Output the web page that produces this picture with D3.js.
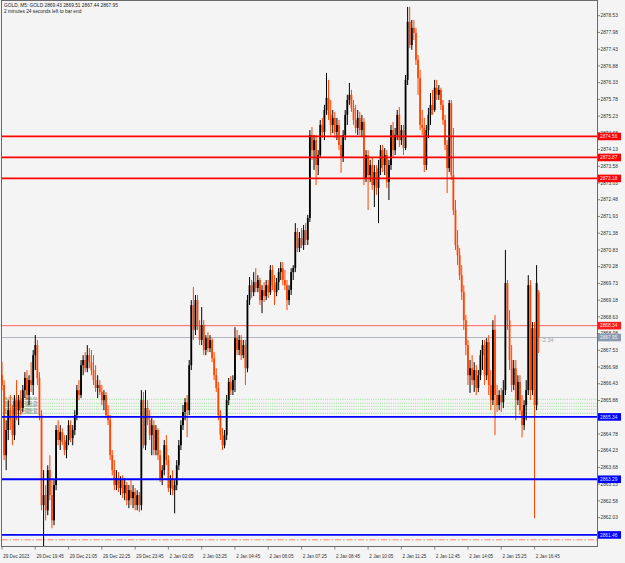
<!DOCTYPE html>
<html><head><meta charset="utf-8">
<script src="https://cdn.jsdelivr.net/npm/d3@7"></script>
<style>html,body{margin:0;padding:0;background:#f4f4f4;}svg{display:block;font-family:"Liberation Sans",Arial,sans-serif;}</style>
</head><body><svg id="c" width="625" height="563"></svg>
<script>
const opens = [2866.71,2866.39,2864.08,2864.91,2865.56,2865.23,2864.74,2865.89,2865.56,2865.89,
2865.63,2866.22,2866.62,2866.06,2866.55,2866.39,2867.37,2867.70,2866.62,2865.40,
2862.44,2862.77,2862.27,2863.59,2862.77,2861.94,2863.10,2864.91,2864.58,2864.84,
2864.51,2864.25,2864.58,2865.07,2864.64,2864.91,2865.40,2866.22,2866.06,2867.04,
2867.21,2866.94,2867.37,2867.14,2866.88,2866.55,2866.29,2866.39,2866.16,2865.89,
2866.06,2865.40,2865.23,2864.08,2863.59,2863.10,2863.33,2863.00,2863.26,2862.83,
2863.10,2862.60,2862.93,2862.67,2862.87,2862.44,2862.77,2862.44,2865.89,2864.41,
2865.63,2865.23,2864.74,2865.07,2864.25,2864.91,2864.08,2863.33,2863.59,2864.41,
2863.92,2863.00,2863.26,2862.93,2863.10,2863.75,2864.41,2865.07,2865.50,2865.82,
2865.56,2867.04,2869.02,2868.20,2869.18,2868.36,2867.87,2868.36,2867.54,2867.93,
2867.60,2867.87,2867.27,2866.71,2866.29,2865.40,2864.74,2864.41,2864.74,2865.89,
2866.49,2866.22,2866.55,2867.93,2867.54,2867.87,2867.37,2867.70,2866.94,2869.18,
2869.67,2869.44,2869.77,2869.58,2869.84,2869.18,2869.51,2869.31,2869.67,2869.44,
2870.17,2869.67,2869.44,2869.77,2870.10,2870.23,2869.84,2869.67,2869.18,2869.51,
2870.10,2870.23,2871.42,2870.89,2871.22,2870.99,2871.48,2871.16,2871.88,2874.61,
2874.11,2874.44,2873.62,2873.95,2874.94,2874.71,2875.43,2875.83,2875.27,2874.94,
2875.17,2874.71,2874.94,2874.28,2873.85,2874.61,2875.27,2875.76,2875.93,2875.50,
2875.10,2874.84,2875.17,2874.77,2875.04,2873.19,2873.95,2873.29,2873.62,2872.96,
2873.39,2872.87,2873.52,2874.11,2873.62,2873.95,2873.06,2873.62,2874.77,2874.11,
2874.61,2875.27,2874.44,2874.77,2874.18,2876.42,2878.33,2877.57,2878.13,2877.96,
2877.08,2876.48,2874.94,2874.84,2873.62,2874.77,2875.27,2875.60,2875.43,2876.16,
2875.93,2876.09,2875.60,2875.10,2874.28,2873.52,2875.66,2873.29,2872.14,2870.99,
2870.66,2870.00,2869.44,2868.52,2867.70,2866.71,2866.94,2866.55,2866.88,2866.29,
2866.71,2867.37,2867.70,2866.71,2867.80,2866.39,2865.89,2868.20,2866.06,2865.73,
2866.06,2865.82,2866.22,2869.74,2868.52,2867.21,2866.39,2866.94,2865.89,2866.49,
2865.56,2865.07,2865.73,2866.22,2869.67,2866.22,2868.26,2865.73,2869.43];
const highs = [2867.14,2866.55,2865.23,2865.89,2866.06,2865.73,2866.06,2866.55,2866.06,2866.22,
2866.39,2866.81,2866.88,2866.71,2867.14,2867.54,2868.03,2867.87,2866.81,2865.56,
2863.59,2863.10,2863.75,2864.08,2863.26,2863.26,2865.07,2865.23,2865.07,2864.97,
2864.74,2864.74,2865.23,2865.23,2865.07,2865.56,2866.39,2866.55,2867.21,2867.37,
2867.47,2867.70,2867.60,2867.54,2867.37,2867.04,2866.71,2866.55,2866.39,2866.22,
2866.16,2865.73,2865.40,2864.25,2863.92,2863.59,2863.52,2863.39,2863.42,2863.33,
2863.20,2863.10,2863.26,2863.10,2863.00,2862.93,2862.87,2866.22,2866.16,2866.22,
2865.89,2865.56,2865.30,2865.23,2865.07,2864.97,2864.25,2863.75,2864.58,2864.74,
2864.08,2863.42,2863.59,2863.26,2863.92,2864.58,2865.23,2865.73,2865.96,2866.06,
2867.21,2869.18,2869.61,2869.35,2869.35,2868.52,2868.95,2868.52,2868.03,2868.13,
2868.03,2867.93,2867.47,2866.94,2866.49,2865.56,2864.97,2864.91,2866.06,2866.62,
2866.68,2866.71,2868.29,2868.20,2868.03,2868.03,2867.87,2867.87,2869.35,2869.94,
2869.84,2870.10,2870.23,2870.00,2869.91,2869.67,2869.77,2869.84,2869.84,2870.33,
2870.33,2870.00,2869.91,2870.23,2870.43,2870.43,2870.17,2869.84,2869.67,2870.23,
2870.33,2871.71,2871.55,2871.42,2871.55,2871.65,2871.71,2871.98,2874.77,2874.87,
2874.61,2874.61,2874.11,2875.10,2875.17,2875.60,2876.65,2876.42,2875.76,2875.43,
2875.37,2875.17,2875.10,2874.61,2874.77,2875.43,2875.93,2876.32,2876.09,2875.76,
2875.60,2875.43,2875.37,2875.27,2875.17,2874.11,2874.11,2873.79,2873.85,2873.62,
2873.62,2873.79,2874.28,2874.28,2874.18,2874.11,2873.79,2874.94,2875.04,2874.84,
2875.43,2875.53,2874.94,2874.94,2876.58,2878.82,2878.82,2878.39,2878.39,2878.13,
2877.24,2876.75,2875.43,2875.17,2874.94,2875.50,2875.99,2876.09,2876.42,2876.42,
2876.25,2876.16,2875.76,2875.27,2874.44,2875.76,2875.76,2874.84,2872.47,2871.48,
2870.89,2870.33,2869.67,2868.69,2867.87,2867.21,2867.37,2867.14,2867.04,2866.88,
2867.54,2867.87,2867.87,2867.93,2868.03,2866.88,2868.52,2868.69,2866.39,2866.22,
2866.29,2866.55,2870.83,2869.84,2868.85,2867.70,2867.21,2867.21,2866.71,2866.71,
2866.06,2865.89,2866.55,2870.00,2869.84,2868.46,2868.46,2870.33,2869.51];
const lows = [2866.22,2863.92,2863.59,2864.58,2864.91,2864.41,2864.58,2865.23,2865.07,2865.40,
2865.50,2865.96,2865.89,2865.73,2866.16,2866.06,2866.88,2866.39,2865.23,2862.27,
2861.02,2861.94,2862.11,2862.60,2861.68,2861.78,2862.93,2864.41,2864.25,2864.41,
2864.08,2863.98,2864.41,2864.51,2864.41,2864.74,2865.23,2865.89,2865.96,2866.71,
2866.81,2866.81,2866.94,2866.71,2866.39,2866.16,2865.96,2866.06,2865.73,2865.56,
2865.30,2865.07,2863.92,2863.42,2862.93,2862.93,2862.87,2862.77,2862.67,2862.60,
2862.44,2862.34,2862.44,2862.34,2862.27,2862.27,2862.21,2862.27,2864.31,2864.25,
2865.07,2864.58,2864.08,2864.08,2864.08,2863.92,2863.20,2863.10,2863.42,2863.75,
2862.87,2862.77,2862.77,2862.17,2862.93,2863.59,2864.25,2864.91,2865.23,2864.67,
2865.40,2866.88,2867.87,2868.03,2868.20,2867.70,2867.70,2867.37,2867.37,2867.47,
2867.47,2867.14,2866.55,2866.16,2865.23,2864.58,2864.25,2864.31,2864.58,2865.73,
2866.06,2866.06,2866.16,2867.37,2867.37,2867.21,2867.27,2866.39,2866.81,2869.02,
2869.25,2869.31,2869.44,2869.44,2869.02,2868.75,2869.12,2869.18,2869.25,2869.35,
2869.51,2869.02,2869.31,2869.51,2869.84,2869.67,2869.51,2868.85,2869.02,2869.35,
2869.84,2870.10,2870.76,2870.76,2870.89,2870.83,2870.99,2870.99,2871.75,2873.79,
2873.46,2872.96,2873.29,2873.85,2874.51,2874.44,2875.27,2875.10,2874.61,2874.67,
2874.51,2874.44,2874.11,2873.36,2873.72,2874.44,2874.94,2875.60,2875.37,2874.94,
2874.67,2874.61,2874.61,2874.54,2872.96,2873.06,2872.14,2873.06,2872.80,2872.24,
2872.64,2871.71,2873.29,2873.39,2873.29,2872.87,2872.47,2873.46,2873.85,2873.95,
2874.44,2874.21,2874.28,2873.95,2874.11,2876.25,2877.47,2877.41,2877.73,2876.91,
2875.93,2874.77,2874.61,2873.39,2873.46,2874.51,2874.94,2875.27,2875.37,2875.76,
2875.76,2875.43,2874.94,2874.11,2872.70,2873.39,2873.13,2871.98,2870.83,2870.33,
2869.84,2869.18,2868.20,2867.37,2866.39,2866.13,2866.39,2866.16,2866.06,2866.16,
2866.55,2866.88,2866.39,2866.55,2866.06,2865.56,2865.73,2864.74,2865.50,2865.56,
2865.50,2865.63,2866.06,2868.20,2866.88,2866.16,2866.22,2865.23,2865.73,2865.40,
2864.67,2864.91,2865.23,2866.06,2865.89,2866.06,2862.01,2865.56,2867.44];
const closes = [2866.39,2864.08,2864.91,2865.56,2865.23,2864.74,2865.89,2865.56,2865.89,2865.63,
2866.22,2866.62,2866.06,2866.55,2866.39,2867.37,2867.70,2866.62,2865.40,2862.44,
2862.77,2862.27,2863.59,2862.77,2861.94,2863.10,2864.91,2864.58,2864.84,2864.51,
2864.25,2864.58,2865.07,2864.64,2864.91,2865.40,2866.22,2866.06,2867.04,2867.21,
2866.94,2867.37,2867.14,2866.88,2866.55,2866.29,2866.39,2866.16,2865.89,2866.06,
2865.40,2865.23,2864.08,2863.59,2863.10,2863.33,2863.00,2863.26,2862.83,2863.10,
2862.60,2862.93,2862.67,2862.87,2862.44,2862.77,2862.44,2865.89,2864.41,2865.63,
2865.23,2864.74,2865.07,2864.25,2864.91,2864.08,2863.33,2863.59,2864.41,2863.92,
2863.00,2863.26,2862.93,2863.10,2863.75,2864.41,2865.07,2865.50,2865.82,2865.56,
2867.04,2869.02,2868.20,2869.18,2868.36,2867.87,2868.36,2867.54,2867.93,2867.60,
2867.87,2867.27,2866.71,2866.29,2865.40,2864.74,2864.41,2864.74,2865.89,2866.49,
2866.22,2866.55,2867.93,2867.54,2867.87,2867.37,2867.70,2866.94,2869.18,2869.67,
2869.44,2869.77,2869.58,2869.84,2869.18,2869.51,2869.31,2869.67,2869.44,2870.17,
2869.67,2869.44,2869.77,2870.10,2870.23,2869.84,2869.67,2869.18,2869.51,2870.10,
2870.23,2871.42,2870.89,2871.22,2870.99,2871.48,2871.16,2871.88,2874.61,2874.11,
2874.44,2873.62,2873.95,2874.94,2874.71,2875.43,2875.83,2875.27,2874.94,2875.17,
2874.71,2874.94,2874.28,2873.85,2874.61,2875.27,2875.76,2875.93,2875.50,2875.10,
2874.84,2875.17,2874.77,2875.04,2873.19,2873.95,2873.29,2873.62,2872.96,2873.39,
2872.87,2873.52,2874.11,2873.62,2873.95,2873.06,2873.62,2874.77,2874.11,2874.61,
2875.27,2874.44,2874.77,2874.18,2876.42,2878.33,2877.57,2878.13,2877.96,2877.08,
2876.48,2874.94,2874.84,2873.62,2874.77,2875.27,2875.60,2875.43,2876.16,2875.93,
2876.09,2875.60,2875.10,2874.28,2873.52,2875.66,2873.29,2872.14,2870.99,2870.66,
2870.00,2869.44,2868.52,2867.70,2866.71,2866.94,2866.55,2866.88,2866.29,2866.71,
2867.37,2867.70,2866.71,2867.80,2866.39,2865.89,2868.20,2866.06,2865.73,2866.06,
2865.82,2866.22,2869.74,2868.52,2867.21,2866.39,2866.94,2865.89,2866.49,2865.56,
2865.07,2865.73,2866.22,2869.67,2866.22,2868.26,2865.73,2869.74,2867.95];

const priceTicks = ["2878.53","2877.98","2877.43","2876.88","2876.33","2875.78","2875.23","2874.68","2874.13","2873.58","2873.03","2872.48","2871.93","2871.38","2870.83","2870.28","2869.73","2869.18","2868.63","2868.08","2867.53","2866.98","2866.43","2865.88","2865.33","2864.78","2864.23","2863.68","2863.13","2862.58","2862.03","2861.48"];
const timeLabels = ["29 Dec 2023","29 Dec 19:45","29 Dec 21:05","29 Dec 22:25","29 Dec 23:45","2 Jan 02:05","2 Jan 03:25","2 Jan 04:45","2 Jan 06:05","2 Jan 07:25","2 Jan 08:45","2 Jan 10:05","2 Jan 11:25","2 Jan 12:45","2 Jan 14:05","2 Jan 15:25","2 Jan 16:45"];
const timeLabelStep = 16;
const redLevels = [2874.56, 2873.87, 2873.18];
const thinRedLevels = [2868.34];
const bidLevel = [2867.95];
const blueLevels = [2865.34, 2863.29, 2861.46];
const greenLevels = [2865.92, 2865.79, 2865.69, 2865.59, 2865.46];
const greenTexts = ["BUY 0.01 at 2865.92","BUY 0.01 at 2865.79","BUY 0.01 at 2865.69","BUY 0.01 at 2865.59","BUY 0.01 at 2865.46"];
const dashLevel = [2861.30];
const titleLines = ["GOLD, M5:  GOLD  2869.43 2869.51 2867.44 2867.95", "2 minutes 24 seconds left to bar end"];
const profitText = "-2.34";

const W = 625, H = 563;
const plot = {l: 1.5, t: 0.5, r: 597.5, b: 546.5};
const svg = d3.select("#c");
svg.append("rect").attr("width", W).attr("height", H).attr("fill", "#f4f4f4");

const n = closes.length;
const x = d3.scaleLinear().domain([0, 257]).range([2, 536.6]);
const y = d3.scaleLinear().domain([2878.53, 2862.03]).range([15.7, 517.6]);

const g = svg.append("g");
svg.append("clipPath").attr("id", "pc").append("rect")
  .attr("x", plot.l).attr("y", plot.t).attr("width", plot.r - plot.l).attr("height", plot.b - plot.t);
const pg = g.append("g").attr("clip-path", "url(#pc)");

function hline(gr, v, color, w, dash) {
  const l = gr.append("line").attr("x1", plot.l).attr("x2", plot.r)
    .attr("y1", y(v)).attr("y2", y(v)).attr("stroke", color).attr("stroke-width", w);
  if (dash) l.attr("stroke-dasharray", dash);
  return l;
}
greenLevels.forEach(v => hline(pg, v, "#7fdc7f", 0.8, "1,1.2"));
dashLevel.forEach(v => hline(pg, v, "#ff6a4a", 0.8, "6,2,1.5,2"));
bidLevel.forEach(v => hline(pg, v, "#b0b4bc", 1));
thinRedLevels.forEach(v => hline(pg, v, "#ff5050", 0.9));

pg.selectAll("text.gt").data(greenLevels).enter().append("text")
  .attr("x", 4).attr("y", v => y(v) + 1.2).attr("font-size", 3.6).attr("fill", "#555")
  .text((v, i) => greenTexts[i]);

const idx = d3.range(n);
const bull = i => closes[i] >= opens[i];
const col = i => bull(i) ? "#000000" : "#ff4500";
pg.selectAll("line.wick").data(idx).enter().append("line")
  .attr("x1", i => x(i)).attr("x2", i => x(i))
  .attr("y1", i => y(highs[i])).attr("y2", i => y(lows[i]))
  .attr("stroke", col).attr("stroke-width", 1);
pg.selectAll("rect.body").data(idx).enter().append("rect")
  .attr("x", i => x(i) - 0.9).attr("width", 1.8)
  .attr("y", i => y(Math.max(opens[i], closes[i])))
  .attr("height", i => Math.max(1, Math.abs(y(opens[i]) - y(closes[i]))))
  .attr("fill", col);

redLevels.forEach(v => hline(pg, v, "#ff0000", 1.8));
blueLevels.forEach(v => hline(pg, v, "#0000ff", 1.8));

pg.append("text").attr("x", 541).attr("y", y(bidLevel[0]) + 4.5).attr("font-size", 5.5)
  .attr("fill", "#a0a0a0").text(profitText);

g.append("rect").attr("x", plot.l).attr("y", plot.t).attr("width", plot.r - plot.l).attr("height", plot.b - plot.t)
  .attr("fill", "none").attr("stroke", "#6a6a6a").attr("stroke-width", 1);

const pa = g.append("g");
priceTicks.forEach(t => {
  const v = +t;
  pa.append("line").attr("x1", plot.r).attr("x2", plot.r + 2.5).attr("y1", y(v)).attr("y2", y(v)).attr("stroke", "#555").attr("stroke-width", 0.7);
  pa.append("text").attr("x", plot.r + 3).attr("y", y(v) + 1.7).attr("font-size", 4.8).attr("fill", "#333").text(t);
});
function tag(v, bg, fg) {
  pa.append("rect").attr("x", plot.r + 0.5).attr("y", y(v) - 3.8).attr("width", 23).attr("height", 7.6).attr("fill", bg);
  pa.append("text").attr("x", plot.r + 2.5).attr("y", y(v) + 1.7).attr("font-size", 4.8).attr("fill", fg).text(v.toFixed(2));
}
redLevels.forEach(v => tag(v, "#ff0000", "#ffe0e0"));
thinRedLevels.forEach(v => tag(v, "#ff1a1a", "#ffe0e0"));
bidLevel.forEach(v => tag(v, "#8c9ab0", "#eef0f4"));
blueLevels.forEach(v => tag(v, "#0000ff", "#dde0ff"));

const ta = g.append("g");
timeLabels.forEach((t, k) => {
  const xi = x(k * timeLabelStep);
  ta.append("line").attr("x1", xi).attr("x2", xi).attr("y1", plot.b).attr("y2", plot.b + 3).attr("stroke", "#555").attr("stroke-width", 0.7);
  ta.append("text").attr("x", xi + 1.2).attr("y", 557.5).attr("font-size", 4.6).attr("fill", "#333").text(t);
});

titleLines.forEach((t, k) => {
  g.append("text").attr("x", 4).attr("y", 6.5 + k * 6.3).attr("font-size", 4.8).attr("fill", "#222").text(t);
});
</script></body></html>
